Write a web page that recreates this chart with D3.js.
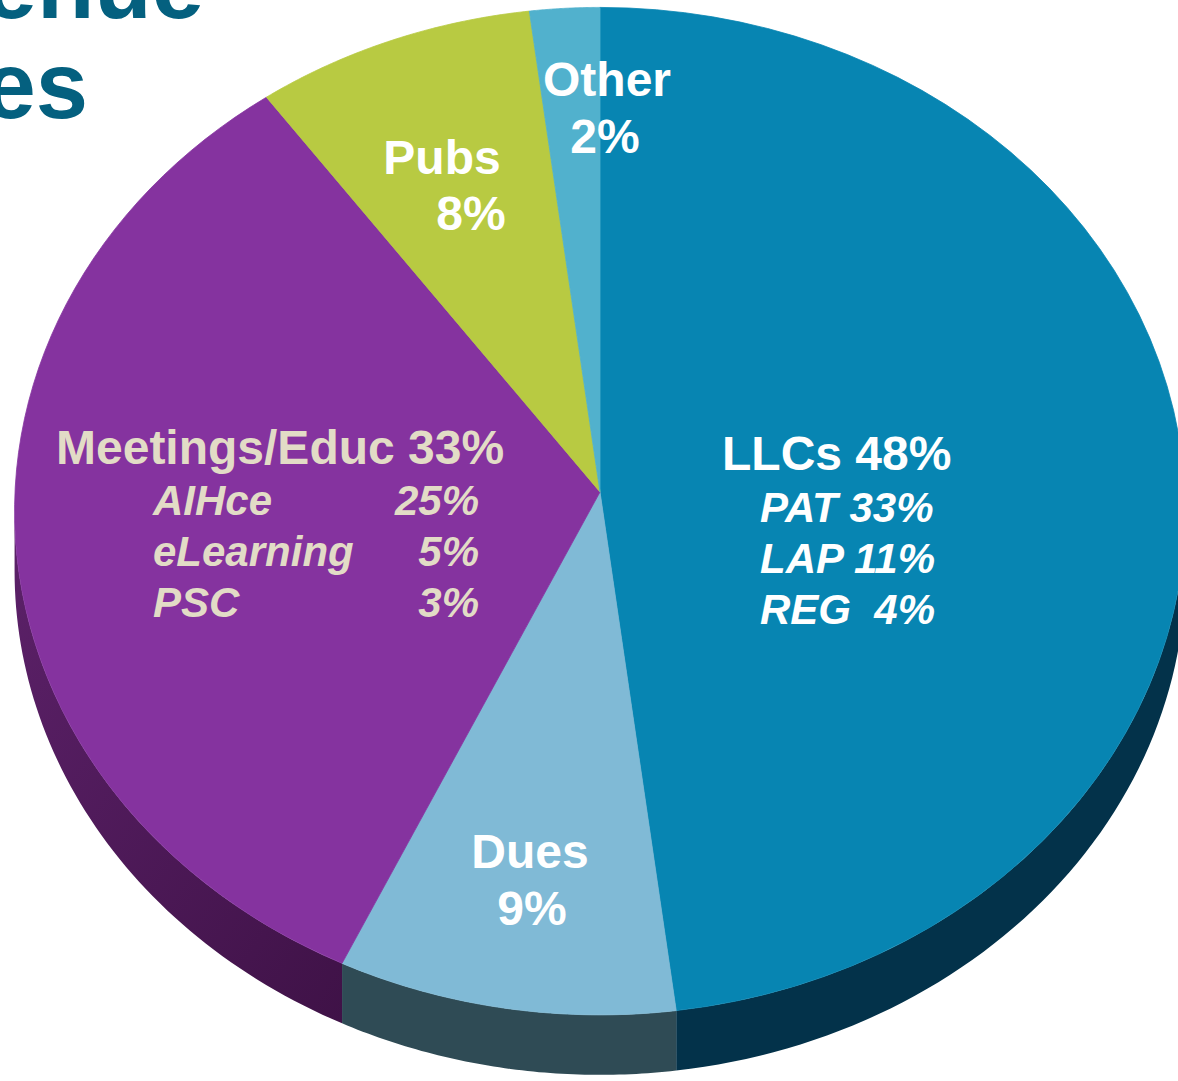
<!DOCTYPE html>
<html>
<head>
<meta charset="utf-8">
<script src="https://cdn.jsdelivr.net/npm/d3@7"></script>
<style>
  html, body { margin: 0; padding: 0; background: #fff; overflow: hidden; }
  text { font-family: "Liberation Sans", Arial, sans-serif; font-weight: bold; white-space: pre; }
</style>
</head>
<body>
<div id="chart"></div>
<script>
/* 3D-looking pie of revenue sources */

// the data
const categories = ["LLCs", "Dues", "Meetings/Educ", "Pubs", "Other"];
const shares = [48, 9, 33, 8, 2];
const llcParts = ["PAT", "LAP", "REG"];
const llcShares = [33, 11, 4];
const meetingParts = ["AIHce", "eLearning", "PSC"];
const meetingShares = [25, 5, 3];
const titleLines = ["Revenue", "Sources"];

// colours: top face and side wall
const topColors = ["#0785b2", "#80bad6", "#85339f", "#b8ca42", "#51b1cd"];
const sideColors = ["#03324a", "#2f4b55", "#4c1a56", "#6f7a20", "#2d6f84"];

const width = 1178,
    height = 1081,
    cx = 600, apexY = 492,  // centre of the pie, as seen
    R = 585, S = 503,       // rim radii
    persp = 0.038,          // back of the pie is a little farther away
    depth = 60;

let svg = d3.select("#chart")
    .append("svg")
    .attr("width", width)
    .attr("height", height)
    .attr("viewBox", [0, 0, width, height]);

// gradient for the purple wall, lighter at the left
let defs = svg.append("defs");
let grad = defs.append("linearGradient")
    .attr("id", "wallPurple")
    .attr("x1", "0").attr("y1", "0").attr("x2", "1").attr("y2", "1");
grad.append("stop").attr("offset", "0").attr("stop-color", "#5c2169");
grad.append("stop").attr("offset", "1").attr("stop-color", "#3f1247");

// title, mostly cut off at the top left
svg.append("g")
    .selectAll("text")
    .data(titleLines)
    .join("text")
    .attr("x", (d, i) => i === 0 ? 204 : 88)
    .attr("y", (d, i) => 18 + i * 100)
    .attr("text-anchor", "end")
    .attr("fill", "#04607f")
    .attr("font-size", 94)
    .text(d => d);

const data = categories.map((c, i) => ({name: c, value: shares[i], i: i}));

// pie keeps the order (clockwise from 12 o'clock)
const pie = d3.pie().sort(null).value(d => d.value);
const arcs = pie(data);

// point on the rim for a pie angle, with a touch of perspective
const ell = a => {
    let k = 1 + persp * Math.cos(a);
    return [cx + R * Math.sin(a) / k, apexY - S * Math.cos(a) / k];
};
const sweep = (a0, a1) => d3.range(0, 61).map(k => a0 + (a1 - a0) * k / 60);

// side wall: only the front part of the rim can be seen
const frontA0 = Math.acos(-persp),
    frontA1 = 2 * Math.PI - frontA0;
function sidePath(d) {
    let a0 = Math.max(d.startAngle, frontA0),
        a1 = Math.min(d.endAngle, frontA1);
    if (a0 >= a1) return null;
    let steps = sweep(a0, a1);
    let topEdge = steps.map(ell);
    let botEdge = steps.slice().reverse().map(a => {
        let p = ell(a);
        return [p[0], p[1] + depth];
    });
    return d3.line()(topEdge.concat(botEdge)) + "Z";
}

// top face: apex then along the rim
function topPath(d) {
    let pts = [[cx, apexY]].concat(sweep(d.startAngle, d.endAngle).map(ell));
    return d3.line()(pts) + "Z";
}

svg.append("g")
    .selectAll(".side")
    .data(arcs.filter(d => sidePath(d)))
    .join("path")
    .attr("class", "side")
    .attr("d", sidePath)
    .attr("fill", d => d.data.i === 2 ? "url(#wallPurple)" : sideColors[d.data.i]);

svg.append("g")
    .selectAll(".slice")
    .data(arcs)
    .join("path")
    .attr("class", "slice")
    .attr("d", topPath)
    .attr("fill", d => topColors[d.data.i])
    .attr("stroke", d => topColors[d.data.i])
    .attr("stroke-width", 0.8);

// labels
const big = 48, small = 42;
function addText(x, y, txt, opts) {
    return svg.append("text")
        .attr("x", x)
        .attr("y", y)
        .attr("font-size", opts.size || big)
        .attr("font-style", opts.italic ? "italic" : null)
        .attr("text-anchor", opts.anchor || "start")
        .attr("fill", opts.fill || "#fff")
        .text(txt);
}

// Other
addText(607, 96, categories[4], {anchor: "middle"});
addText(605, 153, shares[4] + "%", {anchor: "middle"});
// Pubs
addText(442, 174, categories[3], {anchor: "middle"});
addText(471, 230, shares[3] + "%", {anchor: "middle"});
// Dues
addText(530, 868, categories[1], {anchor: "middle"});
addText(532, 925, shares[1] + "%", {anchor: "middle"});

// Meetings/Educ with its breakdown
const beige = "#e2dcc6";
addText(56, 464, `${categories[2]} ${shares[2]}%`, {fill: beige});
meetingParts.forEach((p, i) => {
    addText(153, 515 + i * 51, p, {size: small, italic: true, fill: beige});
    addText(479, 515 + i * 51, meetingShares[i] + "%", {size: small, italic: true, fill: beige, anchor: "end"});
});

// LLCs with its breakdown
addText(722, 470, `${categories[0]} ${shares[0]}%`, {});
llcParts.forEach((p, i) => {
    let v = llcShares[i] < 10 ? " " + llcShares[i] : "" + llcShares[i];
    addText(760, 522 + i * 51, `${p} ${v}%`, {size: small, italic: true});
});
</script>
</body>
</html>
